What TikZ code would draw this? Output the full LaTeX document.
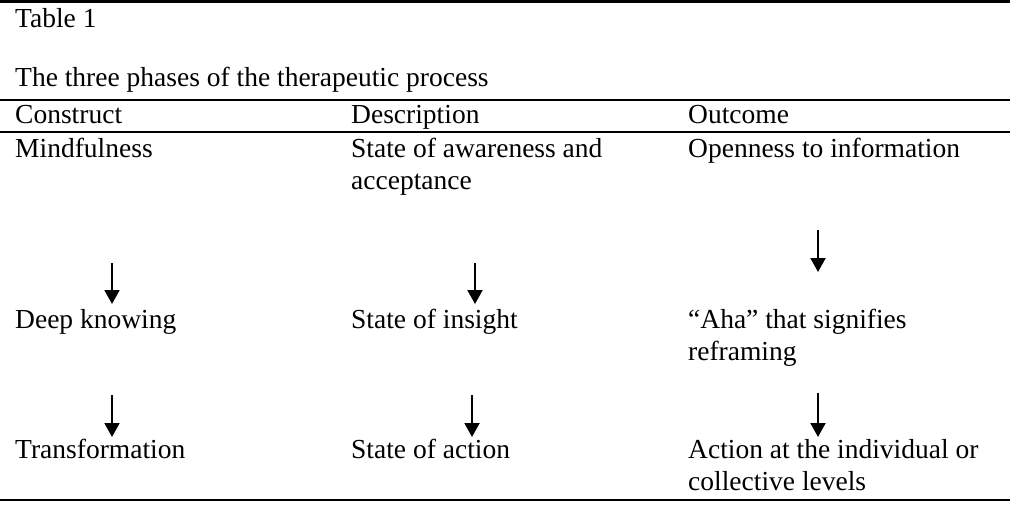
\documentclass[tikz,border=0pt]{standalone}
\usepackage{fontspec}
\setmainfont{Liberation Serif}
\usepackage{tikz}
\usetikzlibrary{arrows.meta}

\tikzset{
	cell/.style={anchor=base west, inner sep=0pt, align=left, font=\fontsize{27.5}{32.5}\selectfont},
	rule/.style={line width=1.6pt},
	flow/.style={line width=2pt, -{Triangle[width=15pt,length=14pt]}}
}

\begin{document}
\begin{tikzpicture}[x=1pt, y=-1pt]
\useasboundingbox (0,0) rectangle (1024,532);
% table rules
\draw[rule, line width=2.6pt] (0,1.5) -- (1010,1.5);
\draw[rule] (0,100) -- (1010,100);
\draw[rule] (0,132) -- (1010,132);
\draw[rule] (0,500) -- (1010,500);
% caption
\node[cell] (tab) at (15,28) {Table 1};
\node[cell] (title) at (15,87) {The three phases of the therapeutic process};
% header
\node[cell] (hcon) at (15,123) {Construct};
\node[cell] (hdes) at (351,123) {Description};
\node[cell] (hout) at (688,123) {Outcome};
% rows (two-line cells sit on their last line)
\node[cell] (mind) at (15,157) {Mindfulness};
\node[cell] (aware) at (351,189.5) {State of awareness and\\acceptance};
\node[cell] (open) at (688,157) {Openness to information};
\node[cell] (deep) at (15,328) {Deep knowing};
\node[cell] (insight) at (351,328) {State of insight};
\node[cell] (aha) at (688,360.5) {``Aha'' that signifies\\reframing};
\node[cell] (trans) at (15,458) {Transformation};
\node[cell] (act) at (351,458) {State of action};
\node[cell] (level) at (688,490.5) {Action at the individual or\\collective levels};
% arrow ends
\coordinate (c1a) at (112,263); \coordinate (c1b) at (112,304);
\coordinate (d1a) at (475,263); \coordinate (d1b) at (475,304);
\coordinate (o1a) at (818,230); \coordinate (o1b) at (818,272);
\coordinate (c2a) at (112,395); \coordinate (c2b) at (112,437);
\coordinate (d2a) at (472,395); \coordinate (d2b) at (472,437);
\coordinate (o2a) at (818,393); \coordinate (o2b) at (818,437);
\path[flow]
(c1a) edge (c1b)
(d1a) edge (d1b)
(o1a) edge (o1b)
(c2a) edge (c2b)
(d2a) edge (d2b)
(o2a) edge (o2b)
;
\end{tikzpicture}
\end{document}
